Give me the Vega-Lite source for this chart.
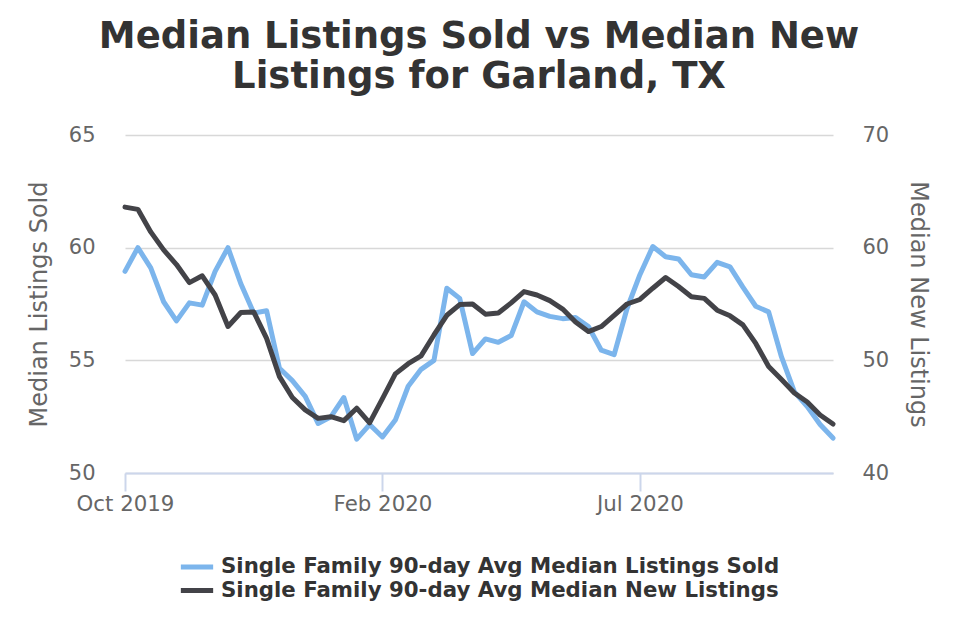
{
  "$schema": "https://vega.github.io/schema/vega-lite/v6.json",
  "width": 708,
  "height": 338,
  "autosize": {"type": "none"},
  "padding": {"left": 125, "top": 135, "right": 127, "bottom": 167},
  "background": "white",
  "config": {"font": "DejaVu Sans", "view": {"stroke": null}},
  "title": {
    "text": ["Median Listings Sold vs Median New", "Listings for Garland, TX"],
    "fontSize": 37,
    "fontWeight": "bold",
    "color": "#333333",
    "anchor": "middle",
    "frame": "group",
    "lineHeight": 40,
    "offset": 28
  },
  "data": {
    "values": [
      {"date": "2019-10-05", "sold": 58.95, "new": 63.6},
      {"date": "2019-10-12", "sold": 60.0, "new": 63.4},
      {"date": "2019-10-19", "sold": 59.1, "new": 61.4},
      {"date": "2019-10-26", "sold": 57.6, "new": 59.8},
      {"date": "2019-11-02", "sold": 56.75, "new": 58.5},
      {"date": "2019-11-09", "sold": 57.55, "new": 56.9},
      {"date": "2019-11-16", "sold": 57.45, "new": 57.5},
      {"date": "2019-11-23", "sold": 58.95, "new": 55.8},
      {"date": "2019-11-30", "sold": 60.0, "new": 53.0},
      {"date": "2019-12-07", "sold": 58.4, "new": 54.25},
      {"date": "2019-12-14", "sold": 57.1, "new": 54.3},
      {"date": "2019-12-21", "sold": 57.2, "new": 51.95},
      {"date": "2019-12-28", "sold": 54.65, "new": 48.55},
      {"date": "2020-01-04", "sold": 54.1, "new": 46.7},
      {"date": "2020-01-11", "sold": 53.4, "new": 45.6},
      {"date": "2020-01-18", "sold": 52.2, "new": 44.85},
      {"date": "2020-01-25", "sold": 52.5, "new": 45.0},
      {"date": "2020-02-01", "sold": 53.35, "new": 44.65},
      {"date": "2020-02-08", "sold": 51.5, "new": 45.75},
      {"date": "2020-02-15", "sold": 52.15, "new": 44.45},
      {"date": "2020-02-22", "sold": 51.6, "new": 46.6},
      {"date": "2020-02-29", "sold": 52.35, "new": 48.8},
      {"date": "2020-03-07", "sold": 53.85, "new": 49.7},
      {"date": "2020-03-14", "sold": 54.6, "new": 50.4},
      {"date": "2020-03-21", "sold": 55.0, "new": 52.25},
      {"date": "2020-03-28", "sold": 58.2, "new": 54.0},
      {"date": "2020-04-04", "sold": 57.75, "new": 54.95},
      {"date": "2020-04-11", "sold": 55.3, "new": 55.0},
      {"date": "2020-04-18", "sold": 55.95, "new": 54.1},
      {"date": "2020-04-25", "sold": 55.8, "new": 54.2},
      {"date": "2020-05-02", "sold": 56.1, "new": 55.1},
      {"date": "2020-05-09", "sold": 57.6, "new": 56.1},
      {"date": "2020-05-16", "sold": 57.15, "new": 55.8},
      {"date": "2020-05-23", "sold": 56.95, "new": 55.3},
      {"date": "2020-05-30", "sold": 56.85, "new": 54.55},
      {"date": "2020-06-06", "sold": 56.9, "new": 53.4},
      {"date": "2020-06-13", "sold": 56.5, "new": 52.55},
      {"date": "2020-06-20", "sold": 55.45, "new": 53.0},
      {"date": "2020-06-27", "sold": 55.25, "new": 54.0},
      {"date": "2020-07-04", "sold": 57.3, "new": 55.0},
      {"date": "2020-07-11", "sold": 58.8, "new": 55.4},
      {"date": "2020-07-18", "sold": 60.05, "new": 56.4},
      {"date": "2020-07-25", "sold": 59.6, "new": 57.35},
      {"date": "2020-08-01", "sold": 59.5, "new": 56.55},
      {"date": "2020-08-08", "sold": 58.8, "new": 55.65},
      {"date": "2020-08-15", "sold": 58.7, "new": 55.5},
      {"date": "2020-08-22", "sold": 59.35, "new": 54.45},
      {"date": "2020-08-29", "sold": 59.15, "new": 53.95},
      {"date": "2020-09-05", "sold": 58.25, "new": 53.15},
      {"date": "2020-09-12", "sold": 57.4, "new": 51.5},
      {"date": "2020-09-19", "sold": 57.15, "new": 49.45},
      {"date": "2020-09-26", "sold": 55.15, "new": 48.3},
      {"date": "2020-10-03", "sold": 53.6, "new": 47.1},
      {"date": "2020-10-10", "sold": 52.95, "new": 46.3},
      {"date": "2020-10-17", "sold": 52.15, "new": 45.15},
      {"date": "2020-10-24", "sold": 51.55, "new": 44.35}
    ]
  },
  "encoding": {
    "x": {
      "field": "date",
      "type": "ordinal",
      "sort": null,
      "scale": {"type": "point", "padding": 0},
      "axis": {
        "title": null,
        "values": ["2019-10-05", "2020-02-22", "2020-07-11"],
        "labelExpr": "utcFormat(toDate(datum.value), '%b %Y')",
        "labelAngle": 0,
        "labelFontSize": 21.3,
        "labelColor": "#666666",
        "labelPadding": 2,
        "domainColor": "#ccd6eb",
        "domainWidth": 2,
        "tickColor": "#ccd6eb",
        "tickWidth": 2,
        "tickSize": 18,
        "grid": false
      }
    }
  },
  "layer": [
    {
      "mark": {"type": "line", "strokeWidth": 5, "strokeJoin": "round", "strokeCap": "round"},
      "encoding": {
        "y": {
          "field": "sold",
          "type": "quantitative",
          "scale": {"domain": [50, 65], "zero": false, "nice": false},
          "axis": {
            "orient": "left",
            "title": "Median Listings Sold",
            "values": [50, 55, 60, 65],
            "labelFontSize": 21,
            "labelColor": "#666666",
            "labelPadding": 30,
            "titleFontSize": 24,
            "titleFontWeight": "normal",
            "titleColor": "#666666",
            "titlePadding": 17,
            "domain": false,
            "ticks": false,
            "grid": true,
            "gridColor": "#d8d8d8",
            "gridWidth": 1.5
          }
        },
        "color": {
          "datum": "Single Family 90-day Avg Median Listings Sold",
          "type": "nominal",
          "scale": {
            "domain": ["Single Family 90-day Avg Median Listings Sold", "Single Family 90-day Avg Median New Listings"],
            "range": ["#7cb5ec", "#434348"]
          },
          "legend": {
            "title": null,
            "orient": "none",
            "legendX": 61,
            "legendY": 421,
            "direction": "vertical",
            "symbolType": "M-1.9,0H1.9",
            "symbolSize": 289,
            "symbolStrokeWidth": 5,
            "labelFontSize": 21.3,
            "labelFontWeight": "bold",
            "labelColor": "#333333",
            "labelOffset": 13,
            "rowPadding": 1.5,
            "labelLimit": 1000
          }
        }
      }
    },
    {
      "mark": {"type": "line", "strokeWidth": 5, "strokeJoin": "round", "strokeCap": "round"},
      "encoding": {
        "y": {
          "field": "new",
          "type": "quantitative",
          "scale": {"domain": [40, 70], "zero": false, "nice": false},
          "axis": {
            "orient": "right",
            "title": "Median New Listings",
            "values": [40, 50, 60, 70],
            "labelFontSize": 21,
            "labelColor": "#666666",
            "labelPadding": 29,
            "titleFontSize": 24,
            "titleFontWeight": "normal",
            "titleColor": "#666666",
            "titlePadding": 17,
            "domain": false,
            "ticks": false,
            "grid": false
          }
        },
        "color": {
          "datum": "Single Family 90-day Avg Median New Listings",
          "type": "nominal"
        }
      }
    }
  ],
  "resolve": {"scale": {"y": "independent"}}
}
